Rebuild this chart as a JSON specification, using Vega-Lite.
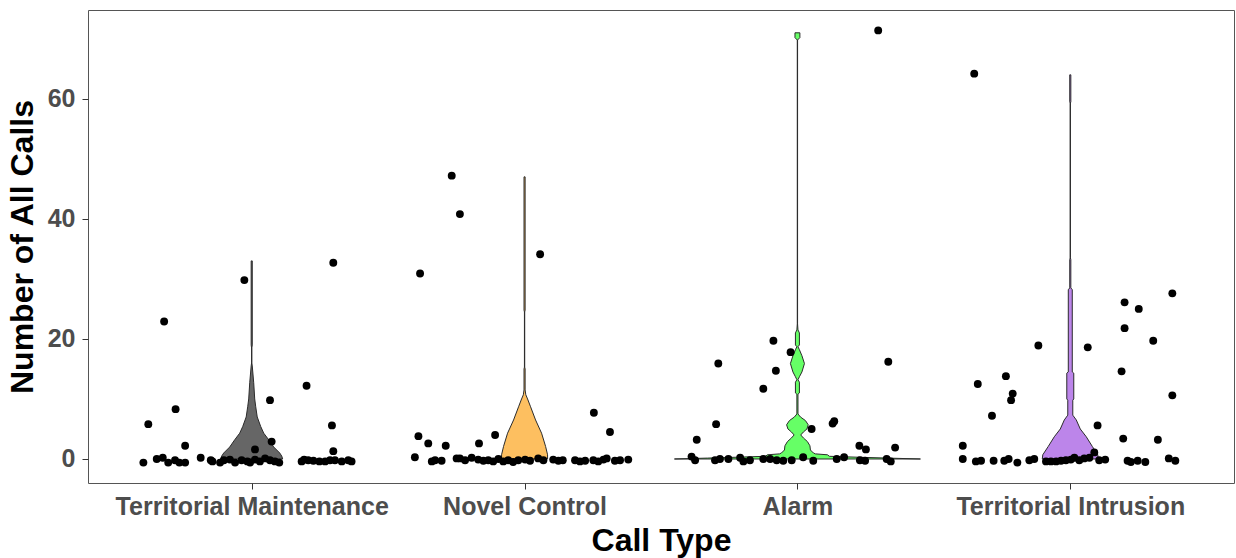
{
  "$schema": "https://vega.github.io/schema/vega-lite/v6.json",
  "width": 1146,
  "height": 473,
  "autosize": {"type": "none"},
  "padding": {"left": 88, "top": 10, "right": 2, "bottom": 75},
  "background": "white",
  "config": {
    "view": {"stroke": "#555555", "strokeWidth": 1},
    "axis": {"grid": false, "domain": false, "ticks": true, "tickColor": "#333333", "tickSize": 6, "labelLimit": 0,
      "labelFont": "Liberation Sans", "labelFontWeight": "bold", "labelFontSize": 25, "labelColor": "#4D4D4D",
      "titleFont": "Liberation Sans", "titleFontWeight": "bold", "titleFontSize": 32, "titleColor": "#000000"}
  },
  "datasets": {
    "vio": [
      {"call": "Territorial Maintenance", "n": 0, "lo": 0.8864, "hi": 1.1136},
      {"call": "Territorial Maintenance", "n": 0.5, "lo": 0.8901, "hi": 1.1099},
      {"call": "Territorial Maintenance", "n": 1.0, "lo": 0.8974, "hi": 1.1026},
      {"call": "Territorial Maintenance", "n": 2, "lo": 0.9194, "hi": 1.0806},
      {"call": "Territorial Maintenance", "n": 3.2, "lo": 0.9377, "hi": 1.0623},
      {"call": "Territorial Maintenance", "n": 4.3, "lo": 0.956, "hi": 1.044},
      {"call": "Territorial Maintenance", "n": 5.4, "lo": 0.967, "hi": 1.033},
      {"call": "Territorial Maintenance", "n": 7, "lo": 0.9798, "hi": 1.0202},
      {"call": "Territorial Maintenance", "n": 8.7, "lo": 0.9853, "hi": 1.0147},
      {"call": "Territorial Maintenance", "n": 10, "lo": 0.989, "hi": 1.011},
      {"call": "Territorial Maintenance", "n": 12.7, "lo": 0.9927, "hi": 1.0073},
      {"call": "Territorial Maintenance", "n": 15.5, "lo": 0.998, "hi": 1.002},
      {"call": "Territorial Maintenance", "n": 16, "lo": 0.9995, "hi": 1.0005},
      {"call": "Territorial Maintenance", "n": 18.5, "lo": 0.9995, "hi": 1.0005},
      {"call": "Territorial Maintenance", "n": 19, "lo": 0.998, "hi": 1.002},
      {"call": "Territorial Maintenance", "n": 33, "lo": 0.998, "hi": 1.002},

      {"call": "Novel Control", "n": 0, "lo": 1.9157, "hi": 2.0843},
      {"call": "Novel Control", "n": 0.7, "lo": 1.9157, "hi": 2.0843},
      {"call": "Novel Control", "n": 2.1, "lo": 1.923, "hi": 2.077},
      {"call": "Novel Control", "n": 4.3, "lo": 1.9377, "hi": 2.0623},
      {"call": "Novel Control", "n": 6.5, "lo": 1.9597, "hi": 2.0403},
      {"call": "Novel Control", "n": 8.7, "lo": 1.978, "hi": 2.022},
      {"call": "Novel Control", "n": 10, "lo": 1.989, "hi": 2.011},
      {"call": "Novel Control", "n": 10.7, "lo": 1.9955, "hi": 2.0045},
      {"call": "Novel Control", "n": 11.5, "lo": 1.998, "hi": 2.002},
      {"call": "Novel Control", "n": 15, "lo": 1.998, "hi": 2.002},
      {"call": "Novel Control", "n": 15.3, "lo": 1.9995, "hi": 2.0005},
      {"call": "Novel Control", "n": 24.5, "lo": 1.9995, "hi": 2.0005},
      {"call": "Novel Control", "n": 24.8, "lo": 1.998, "hi": 2.002},
      {"call": "Novel Control", "n": 47, "lo": 1.998, "hi": 2.002},

      {"call": "Alarm", "n": 0, "lo": 2.5492, "hi": 3.4508},
      {"call": "Alarm", "n": 0.15, "lo": 2.6702, "hi": 3.3298},
      {"call": "Alarm", "n": 0.3, "lo": 2.7801, "hi": 3.2199},
      {"call": "Alarm", "n": 0.45, "lo": 2.8827, "hi": 3.1173},
      {"call": "Alarm", "n": 0.7, "lo": 2.89, "hi": 3.11},
      {"call": "Alarm", "n": 0.85, "lo": 2.934, "hi": 3.066},
      {"call": "Alarm", "n": 1.0, "lo": 2.9414, "hi": 3.0586},
      {"call": "Alarm", "n": 1.5, "lo": 2.9524, "hi": 3.0476},
      {"call": "Alarm", "n": 2.2, "lo": 2.9542, "hi": 3.0458},
      {"call": "Alarm", "n": 2.9, "lo": 2.9634, "hi": 3.0366},
      {"call": "Alarm", "n": 3.5, "lo": 2.978, "hi": 3.022},
      {"call": "Alarm", "n": 4.0, "lo": 2.9879, "hi": 3.0121},
      {"call": "Alarm", "n": 4.5, "lo": 2.978, "hi": 3.022},
      {"call": "Alarm", "n": 5.0, "lo": 2.9652, "hi": 3.0348},
      {"call": "Alarm", "n": 5.7, "lo": 2.9604, "hi": 3.0396},
      {"call": "Alarm", "n": 6.4, "lo": 2.9707, "hi": 3.0293},
      {"call": "Alarm", "n": 7.0, "lo": 2.989, "hi": 3.011},
      {"call": "Alarm", "n": 7.5, "lo": 2.998, "hi": 3.002},
      {"call": "Alarm", "n": 10.8, "lo": 2.998, "hi": 3.002},
      {"call": "Alarm", "n": 11.0, "lo": 2.9927, "hi": 3.0073},
      {"call": "Alarm", "n": 12.8, "lo": 2.9927, "hi": 3.0073},
      {"call": "Alarm", "n": 13.2, "lo": 2.998, "hi": 3.002},
      {"call": "Alarm", "n": 13.7, "lo": 2.9927, "hi": 3.0073},
      {"call": "Alarm", "n": 14.5, "lo": 2.9835, "hi": 3.0165},
      {"call": "Alarm", "n": 15.9, "lo": 2.9743, "hi": 3.0257},
      {"call": "Alarm", "n": 17.2, "lo": 2.9835, "hi": 3.0165},
      {"call": "Alarm", "n": 18.2, "lo": 2.9927, "hi": 3.0073},
      {"call": "Alarm", "n": 18.7, "lo": 2.998, "hi": 3.002},
      {"call": "Alarm", "n": 19.0, "lo": 2.9927, "hi": 3.0073},
      {"call": "Alarm", "n": 21.0, "lo": 2.9927, "hi": 3.0073},
      {"call": "Alarm", "n": 21.5, "lo": 2.998, "hi": 3.002},
      {"call": "Alarm", "n": 22.5, "lo": 2.9995, "hi": 3.0005},
      {"call": "Alarm", "n": 69.8, "lo": 2.9995, "hi": 3.0005},
      {"call": "Alarm", "n": 70.2, "lo": 2.991, "hi": 3.009},
      {"call": "Alarm", "n": 71, "lo": 2.991, "hi": 3.009},

      {"call": "Territorial Intrusion", "n": 0, "lo": 3.8974, "hi": 4.1026},
      {"call": "Territorial Intrusion", "n": 0.7, "lo": 3.8992, "hi": 4.1008},
      {"call": "Territorial Intrusion", "n": 2.1, "lo": 3.9194, "hi": 4.0806},
      {"call": "Territorial Intrusion", "n": 3.7, "lo": 3.9414, "hi": 4.0586},
      {"call": "Territorial Intrusion", "n": 5, "lo": 3.9634, "hi": 4.0366},
      {"call": "Territorial Intrusion", "n": 6.5, "lo": 3.978, "hi": 4.022},
      {"call": "Territorial Intrusion", "n": 7.3, "lo": 3.9908, "hi": 4.0092},
      {"call": "Territorial Intrusion", "n": 9.8, "lo": 3.9908, "hi": 4.0092},
      {"call": "Territorial Intrusion", "n": 10, "lo": 3.9872, "hi": 4.0128},
      {"call": "Territorial Intrusion", "n": 14.3, "lo": 3.9872, "hi": 4.0128},
      {"call": "Territorial Intrusion", "n": 14.5, "lo": 3.9927, "hi": 4.0073},
      {"call": "Territorial Intrusion", "n": 28.2, "lo": 3.9927, "hi": 4.0073},
      {"call": "Territorial Intrusion", "n": 28.5, "lo": 3.998, "hi": 4.002},
      {"call": "Territorial Intrusion", "n": 33.2, "lo": 3.998, "hi": 4.002},
      {"call": "Territorial Intrusion", "n": 33.5, "lo": 3.9995, "hi": 4.0005},
      {"call": "Territorial Intrusion", "n": 59.3, "lo": 3.9995, "hi": 4.0005},
      {"call": "Territorial Intrusion", "n": 59.5, "lo": 3.998, "hi": 4.002},
      {"call": "Territorial Intrusion", "n": 64, "lo": 3.998, "hi": 4.002}
    ],
    "pts": [
      {"call": "Territorial Maintenance", "pos": 0.603, "n": -0.6},
      {"call": "Territorial Maintenance", "pos": 0.621, "n": 5.8},
      {"call": "Territorial Maintenance", "pos": 0.679, "n": 22.9},
      {"call": "Territorial Maintenance", "pos": 0.721, "n": 8.3},
      {"call": "Territorial Maintenance", "pos": 0.756, "n": 2.2},
      {"call": "Territorial Maintenance", "pos": 0.652, "n": 0},
      {"call": "Territorial Maintenance", "pos": 0.674, "n": 0.2},
      {"call": "Territorial Maintenance", "pos": 0.694, "n": -0.6},
      {"call": "Territorial Maintenance", "pos": 0.719, "n": -0.2},
      {"call": "Territorial Maintenance", "pos": 0.735, "n": -0.6},
      {"call": "Territorial Maintenance", "pos": 0.756, "n": -0.6},
      {"call": "Territorial Maintenance", "pos": 0.813, "n": 0.2},
      {"call": "Territorial Maintenance", "pos": 0.850, "n": -0.2},
      {"call": "Territorial Maintenance", "pos": 0.856, "n": -0.4},
      {"call": "Territorial Maintenance", "pos": 0.884, "n": -0.6},
      {"call": "Territorial Maintenance", "pos": 0.898, "n": -0.2},
      {"call": "Territorial Maintenance", "pos": 0.920, "n": -0.1},
      {"call": "Territorial Maintenance", "pos": 0.939, "n": -0.6},
      {"call": "Territorial Maintenance", "pos": 0.963, "n": -0.2},
      {"call": "Territorial Maintenance", "pos": 0.984, "n": -0.4},
      {"call": "Territorial Maintenance", "pos": 0.994, "n": -0.6},
      {"call": "Territorial Maintenance", "pos": 1.012, "n": -0.1},
      {"call": "Territorial Maintenance", "pos": 1.030, "n": -0.4},
      {"call": "Territorial Maintenance", "pos": 1.049, "n": 0.1},
      {"call": "Territorial Maintenance", "pos": 1.067, "n": -0.2},
      {"call": "Territorial Maintenance", "pos": 1.085, "n": -0.4},
      {"call": "Territorial Maintenance", "pos": 1.101, "n": -0.6},
      {"call": "Territorial Maintenance", "pos": 1.183, "n": -0.4},
      {"call": "Territorial Maintenance", "pos": 1.192, "n": -0.1},
      {"call": "Territorial Maintenance", "pos": 1.207, "n": -0.2},
      {"call": "Territorial Maintenance", "pos": 1.226, "n": -0.3},
      {"call": "Territorial Maintenance", "pos": 1.248, "n": -0.4},
      {"call": "Territorial Maintenance", "pos": 1.269, "n": -0.4},
      {"call": "Territorial Maintenance", "pos": 1.287, "n": -0.2},
      {"call": "Territorial Maintenance", "pos": 1.305, "n": -0.2},
      {"call": "Territorial Maintenance", "pos": 1.330, "n": -0.4},
      {"call": "Territorial Maintenance", "pos": 1.354, "n": -0.2},
      {"call": "Territorial Maintenance", "pos": 1.366, "n": -0.4},
      {"call": "Territorial Maintenance", "pos": 0.973, "n": 29.8},
      {"call": "Territorial Maintenance", "pos": 1.012, "n": 1.6},
      {"call": "Territorial Maintenance", "pos": 1.067, "n": 9.8},
      {"call": "Territorial Maintenance", "pos": 1.073, "n": 2.9},
      {"call": "Territorial Maintenance", "pos": 1.201, "n": 12.2},
      {"call": "Territorial Maintenance", "pos": 1.294, "n": 5.6},
      {"call": "Territorial Maintenance", "pos": 1.299, "n": 1.3},
      {"call": "Territorial Maintenance", "pos": 1.299, "n": 32.7},

      {"call": "Novel Control", "pos": 1.598, "n": 0.3},
      {"call": "Novel Control", "pos": 1.611, "n": 3.8},
      {"call": "Novel Control", "pos": 1.647, "n": 2.6},
      {"call": "Novel Control", "pos": 1.711, "n": 2.2},
      {"call": "Novel Control", "pos": 1.833, "n": 2.6},
      {"call": "Novel Control", "pos": 1.892, "n": 4.0},
      {"call": "Novel Control", "pos": 2.254, "n": 7.7},
      {"call": "Novel Control", "pos": 2.313, "n": 4.5},
      {"call": "Novel Control", "pos": 1.733, "n": 47.2},
      {"call": "Novel Control", "pos": 1.763, "n": 40.8},
      {"call": "Novel Control", "pos": 1.617, "n": 30.9},
      {"call": "Novel Control", "pos": 2.057, "n": 34.1},
      {"call": "Novel Control", "pos": 1.660, "n": -0.4},
      {"call": "Novel Control", "pos": 1.672, "n": -0.2},
      {"call": "Novel Control", "pos": 1.696, "n": -0.3},
      {"call": "Novel Control", "pos": 1.751, "n": 0.1},
      {"call": "Novel Control", "pos": 1.763, "n": 0.1},
      {"call": "Novel Control", "pos": 1.782, "n": -0.2},
      {"call": "Novel Control", "pos": 1.806, "n": 0.2},
      {"call": "Novel Control", "pos": 1.830, "n": -0.1},
      {"call": "Novel Control", "pos": 1.849, "n": -0.3},
      {"call": "Novel Control", "pos": 1.867, "n": -0.2},
      {"call": "Novel Control", "pos": 1.885, "n": -0.4},
      {"call": "Novel Control", "pos": 1.904, "n": 0},
      {"call": "Novel Control", "pos": 1.922, "n": -0.4},
      {"call": "Novel Control", "pos": 1.940, "n": -0.2},
      {"call": "Novel Control", "pos": 1.958, "n": -0.5},
      {"call": "Novel Control", "pos": 1.977, "n": -0.2},
      {"call": "Novel Control", "pos": 2.002, "n": -0.1},
      {"call": "Novel Control", "pos": 2.020, "n": -0.3},
      {"call": "Novel Control", "pos": 2.050, "n": 0.1},
      {"call": "Novel Control", "pos": 2.069, "n": -0.2},
      {"call": "Novel Control", "pos": 2.105, "n": -0.1},
      {"call": "Novel Control", "pos": 2.124, "n": -0.3},
      {"call": "Novel Control", "pos": 2.140, "n": -0.2},
      {"call": "Novel Control", "pos": 2.185, "n": -0.2},
      {"call": "Novel Control", "pos": 2.203, "n": -0.4},
      {"call": "Novel Control", "pos": 2.222, "n": -0.3},
      {"call": "Novel Control", "pos": 2.252, "n": -0.2},
      {"call": "Novel Control", "pos": 2.270, "n": -0.4},
      {"call": "Novel Control", "pos": 2.289, "n": -0.1},
      {"call": "Novel Control", "pos": 2.301, "n": 0.1},
      {"call": "Novel Control", "pos": 2.331, "n": -0.3},
      {"call": "Novel Control", "pos": 2.350, "n": -0.2},
      {"call": "Novel Control", "pos": 2.380, "n": -0.1},

      {"call": "Alarm", "pos": 2.710, "n": 15.9},
      {"call": "Alarm", "pos": 2.702, "n": 5.8},
      {"call": "Alarm", "pos": 2.631, "n": 3.2},
      {"call": "Alarm", "pos": 2.912, "n": 19.7},
      {"call": "Alarm", "pos": 2.975, "n": 17.8},
      {"call": "Alarm", "pos": 2.921, "n": 14.7},
      {"call": "Alarm", "pos": 2.875, "n": 11.7},
      {"call": "Alarm", "pos": 3.052, "n": 5.0},
      {"call": "Alarm", "pos": 3.129, "n": 5.9},
      {"call": "Alarm", "pos": 3.135, "n": 6.3},
      {"call": "Alarm", "pos": 3.333, "n": 16.2},
      {"call": "Alarm", "pos": 3.227, "n": 2.2},
      {"call": "Alarm", "pos": 3.251, "n": 1.6},
      {"call": "Alarm", "pos": 3.358, "n": 1.9},
      {"call": "Alarm", "pos": 3.296, "n": 71.4},
      {"call": "Alarm", "pos": 2.612, "n": 0.4},
      {"call": "Alarm", "pos": 2.625, "n": -0.2},
      {"call": "Alarm", "pos": 2.698, "n": -0.2},
      {"call": "Alarm", "pos": 2.716, "n": 0},
      {"call": "Alarm", "pos": 2.747, "n": 0},
      {"call": "Alarm", "pos": 2.790, "n": 0.2},
      {"call": "Alarm", "pos": 2.802, "n": -0.4},
      {"call": "Alarm", "pos": 2.826, "n": -0.2},
      {"call": "Alarm", "pos": 2.875, "n": 0},
      {"call": "Alarm", "pos": 2.900, "n": 0},
      {"call": "Alarm", "pos": 2.924, "n": -0.2},
      {"call": "Alarm", "pos": 2.948, "n": -0.3},
      {"call": "Alarm", "pos": 2.979, "n": -0.2},
      {"call": "Alarm", "pos": 3.021, "n": 0.3},
      {"call": "Alarm", "pos": 3.058, "n": -0.3},
      {"call": "Alarm", "pos": 3.144, "n": 0},
      {"call": "Alarm", "pos": 3.171, "n": 0.3},
      {"call": "Alarm", "pos": 3.229, "n": -0.2},
      {"call": "Alarm", "pos": 3.248, "n": -0.3},
      {"call": "Alarm", "pos": 3.327, "n": 0},
      {"call": "Alarm", "pos": 3.342, "n": -0.4},

      {"call": "Territorial Intrusion", "pos": 3.606, "n": 2.2},
      {"call": "Territorial Intrusion", "pos": 3.661, "n": 12.5},
      {"call": "Territorial Intrusion", "pos": 3.713, "n": 7.2},
      {"call": "Territorial Intrusion", "pos": 3.764, "n": 13.8},
      {"call": "Territorial Intrusion", "pos": 3.789, "n": 10.9},
      {"call": "Territorial Intrusion", "pos": 3.783, "n": 9.8},
      {"call": "Territorial Intrusion", "pos": 3.883, "n": 18.9},
      {"call": "Territorial Intrusion", "pos": 4.064, "n": 18.6},
      {"call": "Territorial Intrusion", "pos": 4.100, "n": 5.6},
      {"call": "Territorial Intrusion", "pos": 4.088, "n": 1.1},
      {"call": "Territorial Intrusion", "pos": 4.199, "n": 26.1},
      {"call": "Territorial Intrusion", "pos": 4.251, "n": 25.0},
      {"call": "Territorial Intrusion", "pos": 4.199, "n": 21.8},
      {"call": "Territorial Intrusion", "pos": 4.304, "n": 19.7},
      {"call": "Territorial Intrusion", "pos": 4.188, "n": 14.6},
      {"call": "Territorial Intrusion", "pos": 4.374, "n": 27.6},
      {"call": "Territorial Intrusion", "pos": 4.374, "n": 10.6},
      {"call": "Territorial Intrusion", "pos": 4.194, "n": 3.4},
      {"call": "Territorial Intrusion", "pos": 4.321, "n": 3.2},
      {"call": "Territorial Intrusion", "pos": 3.648, "n": 64.2},
      {"call": "Territorial Intrusion", "pos": 3.606, "n": 0},
      {"call": "Territorial Intrusion", "pos": 3.654, "n": -0.4},
      {"call": "Territorial Intrusion", "pos": 3.673, "n": -0.3},
      {"call": "Territorial Intrusion", "pos": 3.719, "n": -0.3},
      {"call": "Territorial Intrusion", "pos": 3.758, "n": -0.3},
      {"call": "Territorial Intrusion", "pos": 3.774, "n": 0},
      {"call": "Territorial Intrusion", "pos": 3.806, "n": -0.6},
      {"call": "Territorial Intrusion", "pos": 3.850, "n": -0.2},
      {"call": "Territorial Intrusion", "pos": 3.868, "n": 0},
      {"call": "Territorial Intrusion", "pos": 3.911, "n": -0.4},
      {"call": "Territorial Intrusion", "pos": 3.929, "n": -0.4},
      {"call": "Territorial Intrusion", "pos": 3.948, "n": -0.4},
      {"call": "Territorial Intrusion", "pos": 3.966, "n": -0.3},
      {"call": "Territorial Intrusion", "pos": 3.984, "n": -0.2},
      {"call": "Territorial Intrusion", "pos": 4.002, "n": -0.1},
      {"call": "Territorial Intrusion", "pos": 4.015, "n": 0.2},
      {"call": "Territorial Intrusion", "pos": 4.033, "n": -0.2},
      {"call": "Territorial Intrusion", "pos": 4.051, "n": 0.1},
      {"call": "Territorial Intrusion", "pos": 4.070, "n": 0.2},
      {"call": "Territorial Intrusion", "pos": 4.106, "n": -0.2},
      {"call": "Territorial Intrusion", "pos": 4.128, "n": -0.1},
      {"call": "Territorial Intrusion", "pos": 4.210, "n": -0.3},
      {"call": "Territorial Intrusion", "pos": 4.222, "n": -0.5},
      {"call": "Territorial Intrusion", "pos": 4.247, "n": -0.3},
      {"call": "Territorial Intrusion", "pos": 4.275, "n": -0.5},
      {"call": "Territorial Intrusion", "pos": 4.361, "n": 0.1},
      {"call": "Territorial Intrusion", "pos": 4.385, "n": -0.3}
    ]
  },
  "layer": [
    {
      "data": {"name": "vio"},
      "mark": {"type": "area", "orient": "horizontal", "stroke": "#2b2b2b", "strokeWidth": 1, "opacity": 1, "fillOpacity": 1},
      "encoding": {
        "y": {"field": "n", "type": "quantitative", "scale": {"domain": [-4, 74.8], "nice": false, "zero": false},
          "axis": {"values": [0, 20, 40, 60], "labelPadding": 7, "titlePadding": 8, "title": "Number of All Calls"}},
        "x": {"field": "lo", "type": "quantitative", "scale": {"domain": [0.4, 4.6], "nice": false, "zero": false},
          "axis": {"values": [1, 2, 3, 4], "labelPadding": 5, "titlePadding": 6, "title": "Call Type", "labelFlush": false, "labelOverlap": false,
            "labelExpr": "datum.value == 1 ? 'Territorial Maintenance' : datum.value == 2 ? 'Novel Control' : datum.value == 3 ? 'Alarm' : 'Territorial Intrusion'"}},
        "x2": {"field": "hi"},
        "color": {"field": "call", "type": "nominal", "legend": null,
          "scale": {"domain": ["Territorial Maintenance", "Novel Control", "Alarm", "Territorial Intrusion"],
            "range": ["#666666", "#FDBF60", "#66FF66", "#BC85EA"]}}
      }
    },
    {
      "data": {"name": "pts"},
      "mark": {"type": "circle", "size": 62, "color": "#000000", "opacity": 1},
      "encoding": {
        "x": {"field": "pos", "type": "quantitative", "title": "Call Type"},
        "y": {"field": "n", "type": "quantitative", "title": "Number of All Calls"}
      }
    }
  ]
}
